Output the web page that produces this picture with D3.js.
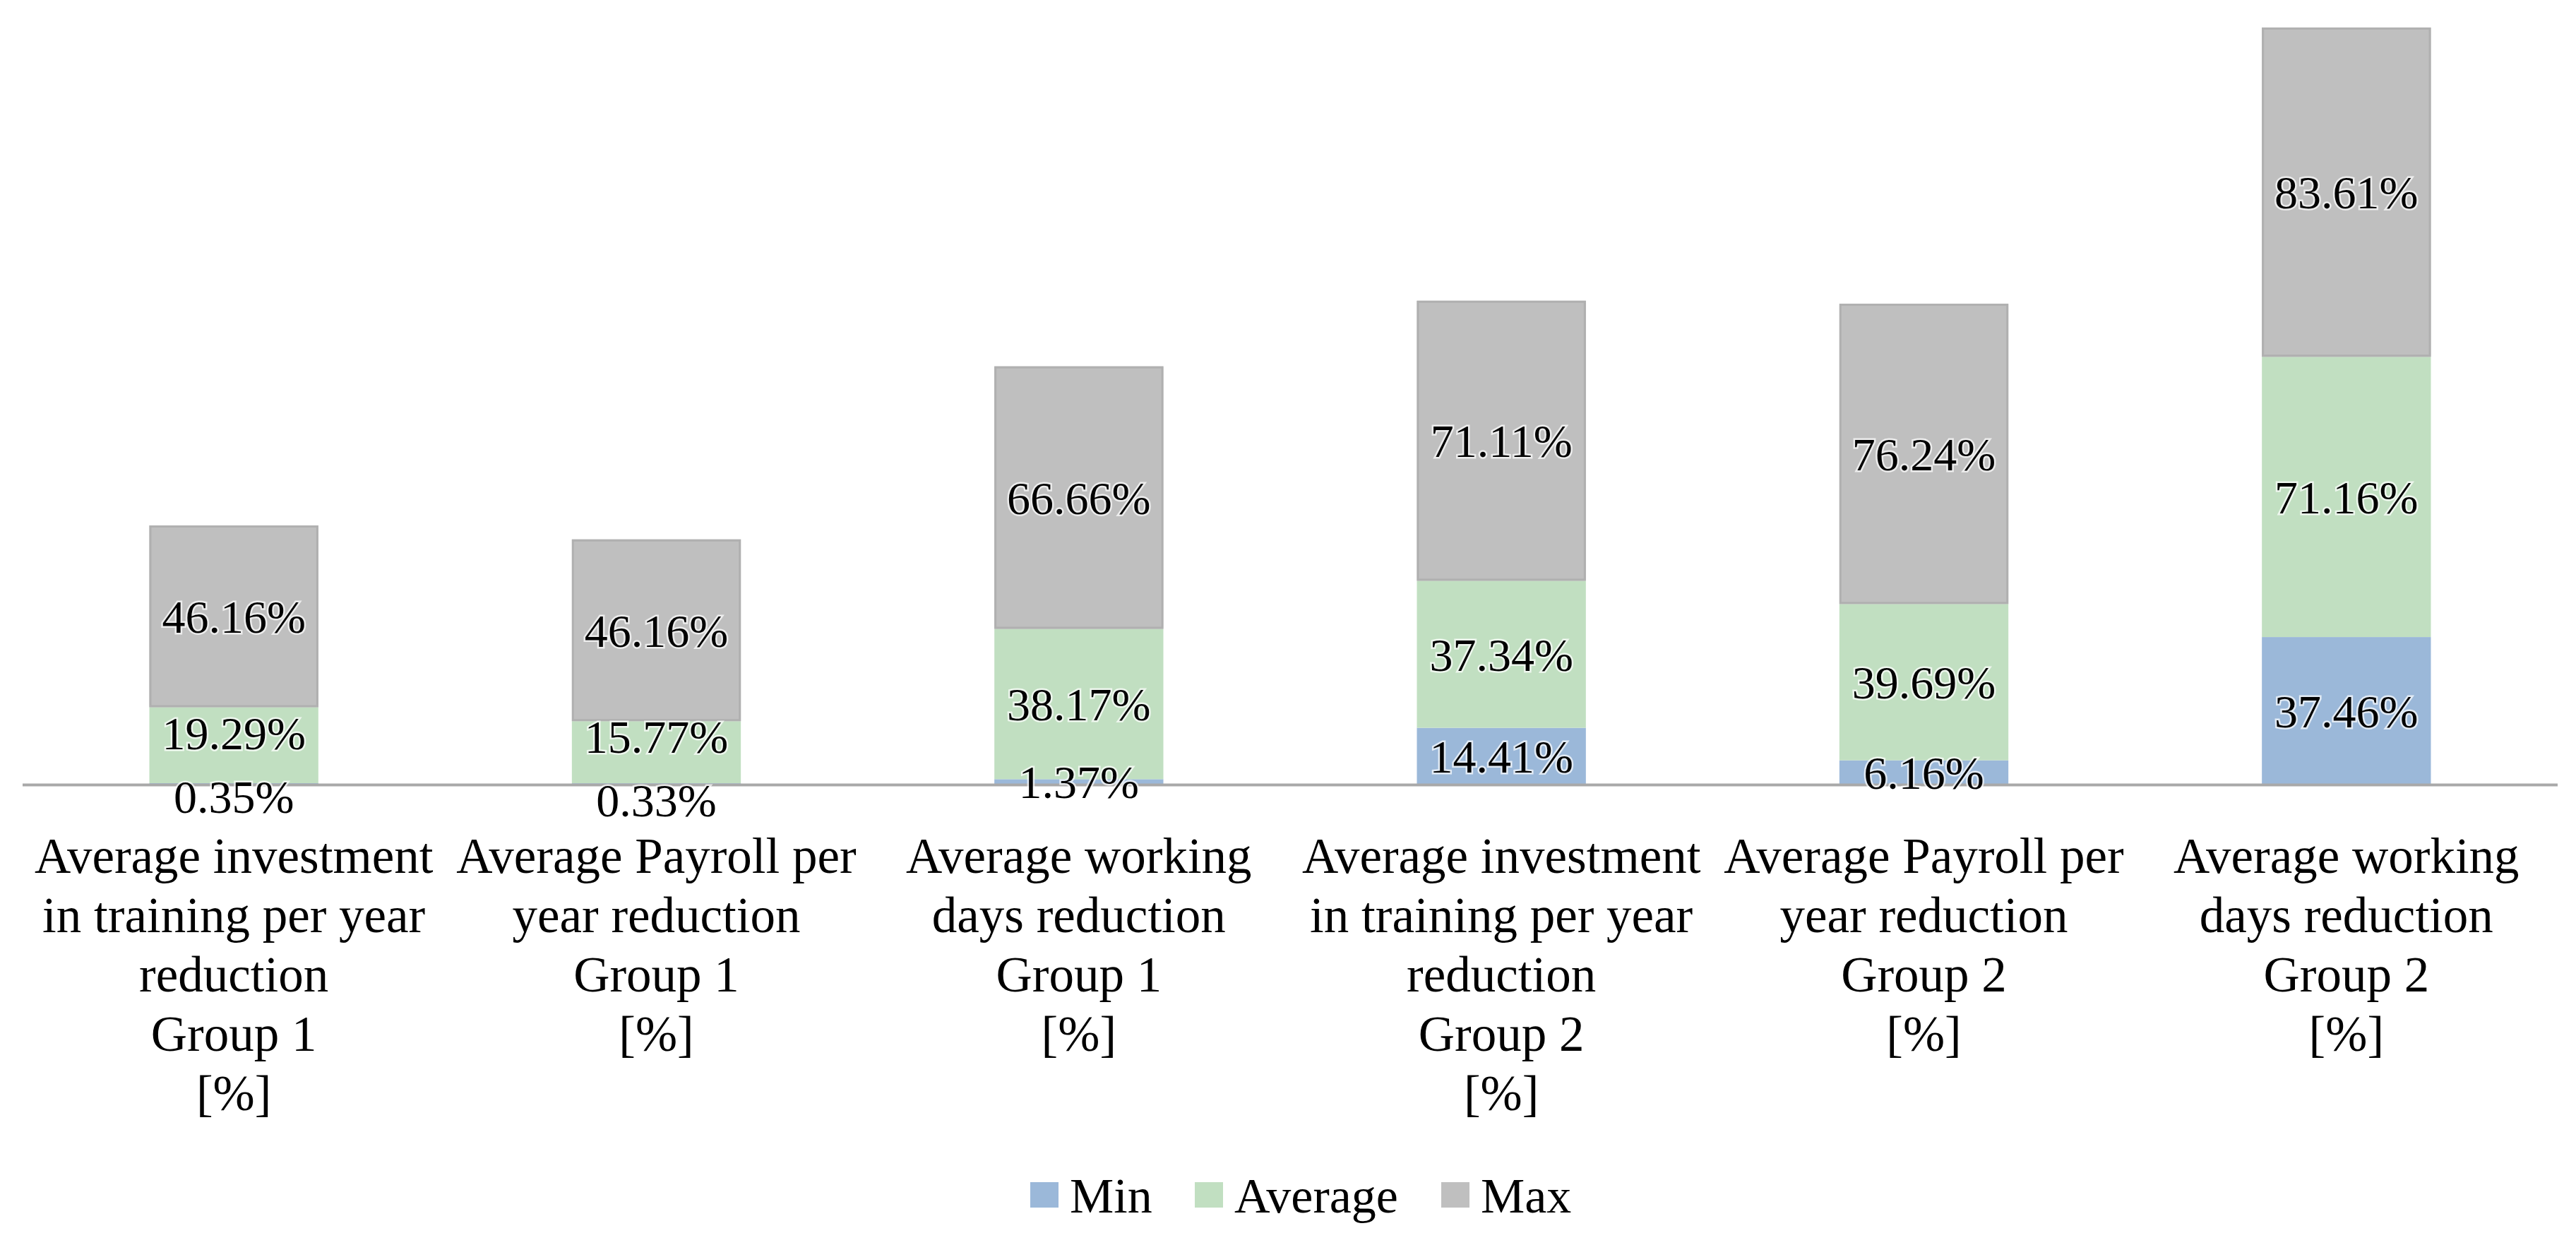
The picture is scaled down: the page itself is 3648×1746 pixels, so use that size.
<!DOCTYPE html>
<html>
<head>
<meta charset="utf-8">
<script src="https://cdn.jsdelivr.net/npm/d3@7"></script>
<style>
  html, body { margin: 0; padding: 0; background: #fff; }
  svg text { font-family: "Liberation Serif", "DejaVu Serif", serif; fill: #000; }
</style>
</head>
<body>
<div id="chart"></div>
<script>
// categories (line breaks are part of the axis labels)
const categories = [
  'Average investment\nin training per year\nreduction\nGroup 1\n[%]',
  'Average Payroll per\nyear reduction\nGroup 1\n[%]',
  'Average working\ndays reduction\nGroup 1\n[%]',
  'Average investment\nin training per year\nreduction\nGroup 2\n[%]',
  'Average Payroll per\nyear reduction\nGroup 2\n[%]',
  'Average working\ndays reduction\nGroup 2\n[%]'
];
const seriesNames = ['Min', 'Average', 'Max'];
const minValues = [0.35, 0.33, 1.37, 14.41, 6.16, 37.46];
const avgValues = [19.29, 15.77, 38.17, 37.34, 39.69, 71.16];
const maxValues = [46.16, 46.16, 66.66, 71.11, 76.24, 83.61];

// svg width and height
const svgW = 3648, svgH = 1746;
const baseY = 1111;

const chart = d3.select('#chart').append('svg')
  .attr('width', svgW)
  .attr('height', svgH);

// rows for the stack
const rows = categories.map((c, i) => ({
  cat: c, Min: minValues[i], Average: avgValues[i], Max: maxValues[i]
}));
const stacked = d3.stack().keys(seriesNames)(rows);

const x = d3.scaleBand()
  .domain(categories)
  .range([32, 3622])
  .paddingInner(0.6)
  .paddingOuter(0.3);

const y = d3.scaleLinear()
  .domain([0, 200])
  .range([baseY, baseY - 200 * 5.577]);

const color = d3.scaleOrdinal()
  .domain(seriesNames)
  .range(['#9bb8d9', '#c1dfc1', '#bfbfbf']);

// bars
const layers = chart.append('g')
  .selectAll('g')
  .data(stacked)
  .join('g')
  .attr('fill', d => color(d.key));

layers.selectAll('rect')
  .data(d => d)
  .join('rect')
  .attr('x', d => x(d.data.cat))
  .attr('width', x.bandwidth())
  .attr('y', d => y(d[1]))
  .attr('height', d => y(d[0]) - y(d[1]));

// outline on the grey segments
chart.append('g')
  .selectAll('rect')
  .data(stacked[2])
  .join('rect')
  .attr('x', d => x(d.data.cat) + 1.5)
  .attr('width', x.bandwidth() - 3)
  .attr('y', d => y(d[1]) + 1.5)
  .attr('height', d => y(d[0]) - y(d[1]) - 3)
  .attr('fill', 'none')
  .attr('stroke', '#b0b0b0')
  .attr('stroke-width', 3);

// category axis line
chart.append('line')
  .attr('x1', 32).attr('x2', 3622)
  .attr('y1', baseY + 0.5).attr('y2', baseY + 0.5)
  .attr('stroke', '#a9a9a9')
  .attr('stroke-width', 4);

// data labels, centred in each segment, pushed apart when they collide
const minGap = 90;
categories.forEach((c, i) => {
  const segs = stacked.map(s => s[i]);
  const ys = segs.map(d => (y(d[0]) + y(d[1])) / 2);
  for (let k = 1; k < ys.length; k++) {
    const gap = ys[k - 1] - ys[k];
    if (gap < minGap) {
      const shift = (minGap - gap) / 2;
      ys[k - 1] += shift;
      ys[k] -= shift;
    }
  }
  segs.forEach((d, k) => {
    const v = d[1] - d[0];
    chart.append('text')
      .attr('x', x(c) + x.bandwidth() / 2)
      .attr('y', ys[k])
      .attr('dy', '0.35em')
      .attr('text-anchor', 'middle')
      .style('font-size', '66px')
      .style('paint-order', 'stroke')
      .style('stroke', 'rgba(255,255,255,0.7)')
      .style('stroke-width', '5px')
      .text(v.toFixed(2) + '%');
  });
});

// category labels
const catG = chart.append('g');
categories.forEach(c => {
  const t = catG.append('text')
    .attr('text-anchor', 'middle')
    .style('font-size', '71px');
  c.split('\n').forEach((line, j) => {
    t.append('tspan')
      .attr('x', x(c) + x.bandwidth() / 2)
      .attr('y', 1211 + j * 84)
      .attr('dy', '0.35em')
      .text(line);
  });
});

// legend
const legendX = [1459, 1692, 2041];
const legend = chart.append('g');
seriesNames.forEach((k, i) => {
  legend.append('rect')
    .attr('x', legendX[i]).attr('y', 1674)
    .attr('width', 40).attr('height', 36)
    .attr('fill', color(k));
  legend.append('text')
    .attr('x', legendX[i] + 56).attr('y', 1692)
    .attr('dy', '0.35em')
    .style('font-size', '70px')
    .text(k);
});
</script>
</body>
</html>
